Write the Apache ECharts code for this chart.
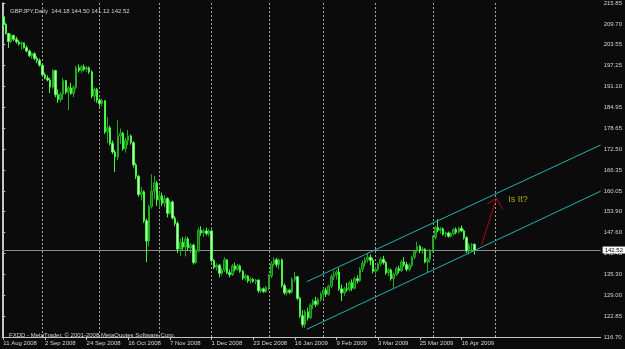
<!DOCTYPE html>
<html><head><meta charset="utf-8">
<script src="https://cdn.jsdelivr.net/npm/echarts@6/dist/echarts.min.js"></script>
<style>html,body{margin:0;padding:0;background:#0b0b0b}#c{width:625px;height:349px}</style>
</head><body><div id="c"></div>
<script>
// ---------- data ----------
const symbolName = 'GBPJPY,Daily';
const copyrightText = 'FXDD - MetaTrader, \u00a9 2001-2008 MetaQuotes Software Corp.';
const firstDay = '2008-08-11';
const holidays = ['2008-12-25', '2009-01-01'];
const totalSlots = 230;
const labelEvery = 16;
const futureSeparatorSlots = 10;
const yMin = 116.70, yMax = 215.85;
const yTickLabels = ['116.70','122.85','129.00','135.30','141.45','147.60','153.90','160.05','166.35','172.50','178.65','184.95','191.10','197.25','203.55','209.70','215.85'];

// rows: [open, high, low, close]
const aug08 = [
 [211.8,212.5,209.0,209.5],[209.5,210.0,206.5,206.8],[206.8,207.0,202.5,204.4],[204.4,206.8,204.0,206.3],
 [206.2,206.5,204.6,205.1],[205.1,205.8,203.8,204.3],[204.3,204.8,203.2,203.7],[203.7,204.4,201.9,204.0],
 [204.0,204.1,202.3,202.6],[202.6,203.3,201.2,201.6],[201.6,202.0,199.8,200.2],[200.2,201.2,199.3,200.8],
 [200.8,201.2,198.9,199.4],[199.4,200.0,198.0,198.8],[198.8,199.4,197.0,197.4]];
const sep08 = [
 [197.4,197.6,194.2,194.5],[194.5,195.2,193.2,193.6],[193.6,194.4,192.6,193.0],[193.0,193.6,189.1,190.9],
 [190.9,196.2,190.4,195.8],[195.8,196.0,187.9,188.6],[188.6,190.2,186.2,187.2],[187.2,189.4,186.4,188.8],
 [188.8,193.6,187.2,192.8],[192.8,193.0,188.8,189.4],[189.4,191.2,184.1,190.6],[190.6,192.1,188.6,189.0],
 [189.0,191.4,187.9,190.8],[190.8,197.2,190.2,196.6],[196.6,197.6,195.2,195.8],[195.8,197.4,195.0,196.9],
 [196.9,197.6,195.6,196.2],[196.2,197.2,195.4,196.6],[196.6,197.0,194.8,195.4],[195.4,195.8,187.6,188.2],
 [188.2,190.8,186.6,190.2],[190.2,190.6,186.2,187.0]];
const oct08 = [
 [187.0,187.6,185.0,186.0],[186.0,187.4,185.2,186.8],[186.8,187.0,177.0,177.6],[177.6,182.0,174.3,178.8],
 [178.8,179.4,173.6,174.2],[174.2,175.0,171.0,171.6],[171.6,172.2,165.7,170.2],[170.2,181.2,169.2,176.4],
 [176.4,178.6,174.0,177.2],[177.2,177.6,172.0,172.6],[172.6,175.8,171.4,175.0],[175.0,178.2,173.6,176.4],
 [176.4,176.8,173.8,174.4],[174.4,174.8,167.0,167.8],[167.8,168.4,163.6,164.4],[164.4,164.8,158.4,159.0],
 [159.0,161.2,157.2,159.8],[159.8,160.2,150.6,151.2],[151.2,151.8,138.9,145.2],[145.2,156.0,143.6,155.4],
 [155.4,165.0,154.8,160.0],[160.0,164.6,157.6,162.4],[162.4,163.0,155.6,157.4]];
const nov08 = [
 [157.4,159.8,155.2,158.6],[158.6,159.6,155.6,156.4],[156.4,158.8,155.2,157.8],[157.8,158.2,152.2,153.4],
 [153.4,157.4,153.0,156.8],[156.8,157.2,151.6,152.0],[152.0,152.6,149.6,150.4],[150.4,151.0,141.6,142.8],
 [142.8,145.8,140.8,144.8],[144.8,146.4,142.6,143.4],[143.4,146.6,140.6,145.8],[145.8,146.4,142.4,143.2],
 [143.2,144.6,141.6,144.0],[144.0,144.4,138.2,138.8],[138.8,142.8,138.4,142.2],[142.2,149.2,141.8,148.4],
 [148.4,149.6,146.8,147.6],[147.6,148.8,146.4,148.2],[148.2,149.2,146.8,147.4],[147.4,148.8,146.6,148.2]];
const dec08 = [
 [148.2,148.6,138.8,139.4],[139.4,139.8,136.8,137.4],[137.4,138.6,136.4,138.0],[138.0,138.4,134.4,135.6],
 [135.6,137.2,135.0,136.6],[136.6,140.4,136.0,139.6],[139.6,139.8,135.4,135.8],[135.8,136.8,134.4,135.2],
 [135.2,138.4,134.8,137.8],[137.8,138.8,136.2,136.8],[136.8,138.4,136.4,137.8],[137.8,138.2,135.8,136.2],
 [136.2,136.6,133.6,134.2],[134.2,135.4,133.4,134.8],[134.8,135.0,132.8,133.4],[133.4,134.4,132.6,133.8],
 [133.8,134.2,132.8,133.2],[133.2,134.0,132.4,133.6],[133.6,133.8,129.8,130.4],[130.4,131.6,129.8,131.0],
 [131.0,131.4,129.8,130.2],[130.2,131.8,129.8,131.4]];
const jan09 = [
 [131.4,135.4,130.6,134.8],[134.8,139.2,134.2,138.4],[138.4,140.4,137.6,139.6],[139.6,140.2,137.4,138.2],
 [138.2,140.0,136.8,139.6],[139.6,140.0,131.4,132.0],[132.0,132.6,129.2,129.8],[129.8,131.2,129.0,130.6],
 [130.6,131.0,129.4,130.0],[130.0,134.4,129.6,133.8],[133.8,136.0,133.0,134.6],[134.6,134.8,127.6,128.2],
 [128.2,128.6,122.4,123.0],[123.0,124.6,119.6,120.4],[120.4,124.8,119.4,124.2],[124.2,125.4,121.6,122.4],
 [122.4,126.8,122.0,126.2],[126.2,128.0,125.0,127.4],[127.4,128.6,125.6,126.4],[126.4,128.4,126.0,127.8],
 [127.8,130.0,127.2,129.4]];
const feb09 = [
 [129.4,131.2,128.0,130.6],[130.6,131.4,128.6,129.4],[129.4,132.2,129.0,131.8],[131.8,135.4,131.2,134.6],
 [134.6,136.4,133.6,135.2],[135.2,136.6,133.8,136.0],[136.0,137.2,130.4,131.0],[131.0,132.2,127.4,129.8],
 [129.8,131.6,129.0,131.0],[131.0,132.8,130.2,130.8],[130.8,133.4,130.2,132.8],[132.8,133.8,130.4,131.2],
 [131.2,134.6,130.8,134.0],[134.0,135.0,132.6,133.4],[133.4,137.4,133.0,136.8],[136.8,139.4,136.0,138.6],
 [138.6,140.4,137.6,139.6],[139.6,141.6,138.8,140.4],[140.4,141.2,138.0,139.4],[139.4,140.2,135.6,136.2]];
const mar09 = [
 [136.2,137.6,135.4,136.8],[136.8,138.8,136.2,138.4],[138.4,140.4,137.8,139.8],[139.8,140.8,138.2,138.8],
 [138.8,139.2,135.2,135.8],[135.8,137.2,134.8,136.6],[136.6,137.0,133.4,134.0],[134.0,135.8,131.4,135.2],
 [135.2,137.6,134.8,137.0],[137.0,137.8,135.6,136.4],[136.4,139.6,136.0,139.0],[139.0,140.4,137.6,138.2],
 [138.2,139.0,136.2,136.8],[136.8,138.6,136.2,138.0],[138.0,140.8,137.4,140.4],[140.4,142.6,139.8,142.2],
 [142.2,145.0,141.8,143.6],[143.6,144.0,141.6,142.4],[142.4,143.4,141.4,142.8],[142.8,143.0,138.6,139.0],
 [139.0,140.4,136.0,139.8],[139.8,142.8,138.8,142.4]];
const apr09 = [
 [142.4,146.8,141.8,146.2],[146.2,149.6,145.6,149.2],[149.2,151.7,147.8,148.4],[148.4,149.4,147.4,148.8],
 [148.8,149.2,146.8,147.2],[147.2,148.0,146.4,147.6],[147.6,148.0,146.2,146.6],[146.6,147.8,146.2,147.4],
 [147.4,149.0,146.8,148.6],[148.6,149.2,147.2,147.8],[147.8,149.4,147.4,149.0],[149.0,149.8,147.8,148.2],
 [148.2,148.6,145.6,146.2],[146.2,146.6,141.6,142.2],[142.2,144.6,141.2,144.0],[144.0,144.6,142.0,144.2],
 [144.18,144.50,141.12,142.52]];

// drawn objects, [slot index, price]
const channelUpper = [[116.6,133.12],[229.5,173.70]];
const channelLower = [[116.6,118.99],[229.5,159.98]];
const arrowShaft = [[183.7,144.01],[189.5,157.87]];
const arrowHead = [[186.0,156.18],[189.5,157.87],[191.8,154.70]];
const noteText = 'Is It?';
const notePoint = [193.8,157.37];

// ---------- build ----------
const bars = [].concat(aug08, sep08, oct08, nov08, dec08, jan09, feb09, mar09, apr09);
const MON = ['Jan','Feb','Mar','Apr','May','Jun','Jul','Aug','Sep','Oct','Nov','Dec'];
const dates = [];
let d = new Date(firstDay + 'T00:00:00Z');
while (dates.length < bars.length) {
  const iso = d.toISOString().slice(0,10);
  const wd = d.getUTCDay();
  if (wd !== 0 && wd !== 6 && holidays.indexOf(iso) < 0) dates.push(new Date(d));
  d = new Date(d.getTime() + 86400000);
}
while (dates.length < totalSlots) { // future slots: every calendar day
  dates.push(new Date(d));
  d = new Date(d.getTime() + 86400000);
}
const cats = dates.map(x => x.getUTCDate() + ' ' + MON[x.getUTCMonth()] + ' ' + x.getUTCFullYear());
const separators = [];
for (let i = 1; i < bars.length + futureSeparatorSlots; i++) if (dates[i].getUTCMonth() !== dates[i-1].getUTCMonth()) separators.push(i);
const candleData = bars.map(b => [b[0], b[3], b[2], b[1]]);
const last = bars[bars.length - 1];
const fmt = v => v.toFixed(2);
const showLabel = i => i % labelEvery === 0 && i < bars.length;
const yInterval = (yMax - yMin) / 16;

const FONT = 'Liberation Sans';
const TXT = '#d4d4d4';
const AXC = '#c4c4c4';

const chart = echarts.init(document.getElementById('c'), null, {renderer: 'canvas'});
chart.setOption({
  animation: false,
  backgroundColor: '#0b0b0b',
  title: [
    {text: symbolName + '  ' + [last[0], last[1], last[2], last[3]].map(fmt).join(' '), left: 5, top: 3,
     textStyle: {color: TXT, fontSize: 6, fontWeight: 'normal', fontFamily: FONT}},
    {text: copyrightText, left: 4, top: 327,
     textStyle: {color: TXT, fontSize: 6, fontWeight: 'normal', fontFamily: FONT}}
  ],
  grid: {left: 2, right: 24, top: 3, bottom: 12},
  xAxis: [
    {type: 'category', data: cats, boundaryGap: true,
     axisLine: {show: true, lineStyle: {color: AXC, width: 1}},
     axisTick: {show: true, alignWithLabel: true, interval: showLabel, length: 3, lineStyle: {color: AXC}},
     axisLabel: {interval: showLabel, align: 'left', fontSize: 6, color: TXT, margin: 3, fontFamily: FONT},
     splitLine: {show: false}},
    {type: 'value', min: -0.5, max: totalSlots - 0.5, show: false}
  ],
  yAxis: [
    {type: 'value', position: 'right', min: yMin, max: yMax, interval: yInterval,
     axisLine: {show: true, lineStyle: {color: AXC, width: 1}},
     axisTick: {show: true, length: 2, lineStyle: {color: AXC}},
     axisLabel: {fontSize: 6, color: TXT, margin: 3, fontFamily: FONT, showMaxLabel: true, showMinLabel: true,
       formatter: v => yTickLabels[Math.round((v - yMin) / yInterval)] || ''},
     splitLine: {show: false}},
    {type: 'value', position: 'left', min: yMin, max: yMax,
     axisLine: {show: true, lineStyle: {color: AXC, width: 1}},
     axisTick: {show: false}, axisLabel: {show: false}, splitLine: {show: false}}
  ],
  series: [
    {type: 'candlestick', name: 'GBPJPY', data: candleData, xAxisIndex: 0, yAxisIndex: 0,
     barWidth: 2,
     itemStyle: {color: '#107410', color0: '#c4ffc4', borderColor: '#22aa22', borderColor0: '#44f844', borderWidth: 1},
     markLine: {silent: true, symbol: ['none','none'], animation: false, z: 1,
       data: separators.map(i => ({xAxis: cats[i], lineStyle: {type: [2,2], color: '#a4a4a4', width: 1}, label: {show: false}}))
         .concat([{yAxis: last[3], lineStyle: {type: 'solid', color: '#8c8c8c', width: 1},
           label: {show: true, position: 'end', distance: 2, formatter: fmt(last[3]), backgroundColor: '#ffffff',
             color: '#000000', fontSize: 6, fontFamily: FONT, padding: [1,2,0,2]}}])}
    },
    {type: 'line', name: 'channelUpper', data: channelUpper, xAxisIndex: 1, yAxisIndex: 0, symbol: 'none',
     lineStyle: {color: '#1fb3b3', width: 1}, silent: true},
    {type: 'line', name: 'channelLower', data: channelLower, xAxisIndex: 1, yAxisIndex: 0, symbol: 'none',
     lineStyle: {color: '#1fb3b3', width: 1}, silent: true},
    {type: 'line', name: 'arrowShaft', data: arrowShaft, xAxisIndex: 1, yAxisIndex: 0, symbol: 'none',
     lineStyle: {color: '#a81010', width: 1}, silent: true},
    {type: 'line', name: 'arrowHead', data: arrowHead, xAxisIndex: 1, yAxisIndex: 0, symbol: 'none',
     lineStyle: {color: '#a81010', width: 1}, silent: true},
    {type: 'scatter', name: 'note', data: [notePoint], xAxisIndex: 1, yAxisIndex: 0, symbolSize: 1,
     itemStyle: {color: 'rgba(0,0,0,0)'}, silent: true,
     label: {show: true, formatter: noteText, position: 'right', distance: 0, color: '#d6d600', fontSize: 9, fontFamily: FONT}}
  ]
});
</script></body></html>
